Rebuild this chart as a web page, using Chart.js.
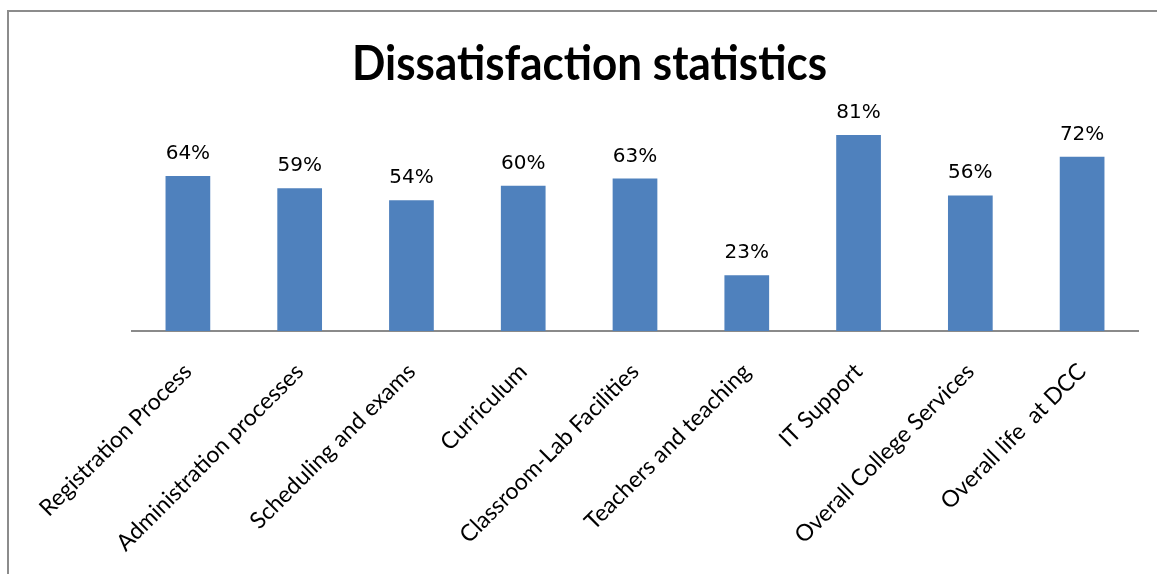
<!DOCTYPE html>
<html>
<head>
<meta charset="utf-8">
<script src="https://cdn.jsdelivr.net/npm/chart.js@4/dist/chart.umd.min.js"></script>
<style>
  html, body { margin: 0; padding: 0; background: #fff; overflow: hidden; }
  #wrap { position: relative; width: 1157px; height: 574px; overflow: hidden; }
  #frame { position: absolute; left: 7px; top: 10px; width: 1200px; height: 600px; border: 2px solid #8c8c8c; box-sizing: border-box; }
  #cv { position: absolute; left: 0; top: 0; }
</style>
</head>
<body>
<div id="wrap">
  <div id="frame"></div>
  <canvas id="cv" width="1157" height="574"></canvas>
</div>
<script>
const categories = ["Registration Process", "Administration processes", "Scheduling and exams", "Curriculum", "Classroom-Lab Facilities", "Teachers and teaching", "IT Support", "Overall College Services", "Overall life  at DCC"];
const values = [64, 59, 54, 60, 63, 23, 81, 56, 72];
const chartTitle = "Dissatisfaction statistics";

const valueLabels = {
  id: 'valueLabels',
  afterDatasetsDraw(chart) {
    const ctx = chart.ctx;
    const meta = chart.getDatasetMeta(0);
    ctx.save();
    ctx.font = '20px "DejaVu Sans"';
    ctx.fillStyle = '#000';
    ctx.textAlign = 'center';
    ctx.textBaseline = 'alphabetic';
    meta.data.forEach((bar, i) => {
      ctx.fillText(values[i] + '%', bar.x, bar.y - 17);
    });
    ctx.restore();
  }
};

const titleDraw = {
  id: 'titleDraw',
  afterDraw(chart) {
    const ctx = chart.ctx;
    ctx.save();
    ctx.font = 'bold 48px Lato';
    ctx.fillStyle = '#000';
    ctx.textAlign = 'center';
    ctx.textBaseline = 'alphabetic';
    const w = ctx.measureText(chartTitle).width;
    const sx = 475 / w;
    ctx.translate(589.5, 80);
    ctx.scale(sx, 1);
    ctx.fillText(chartTitle, 0, 0);
    ctx.restore();
  }
};

new Chart(document.getElementById('cv'), {
  type: 'bar',
  data: {
    labels: categories,
    datasets: [{
      data: values,
      backgroundColor: '#4F81BD',
      borderWidth: 0,
      barPercentage: 0.4,
      categoryPercentage: 1.0
    }]
  },
  options: {
    responsive: false,
    animation: false,
    layout: { padding: { left: 132, right: 19, top: 89, bottom: 0 } },
    plugins: {
      legend: { display: false },
      tooltip: { enabled: false },
      title: { display: false }
    },
    scales: {
      x: {
        grid: { display: false, drawTicks: false },
        border: { display: true, color: '#8a8a8a', width: 2 },
        ticks: {
          color: '#000',
          font: { family: 'Lato', size: 23 },
          minRotation: 45,
          maxRotation: 45,
          autoSkip: false,
          padding: 27
        },
        afterFit(scale) { scale.height = 243; }
      },
      y: {
        display: false,
        min: 0,
        max: 100
      }
    }
  },
  plugins: [valueLabels, titleDraw]
});
</script>
</body>
</html>
